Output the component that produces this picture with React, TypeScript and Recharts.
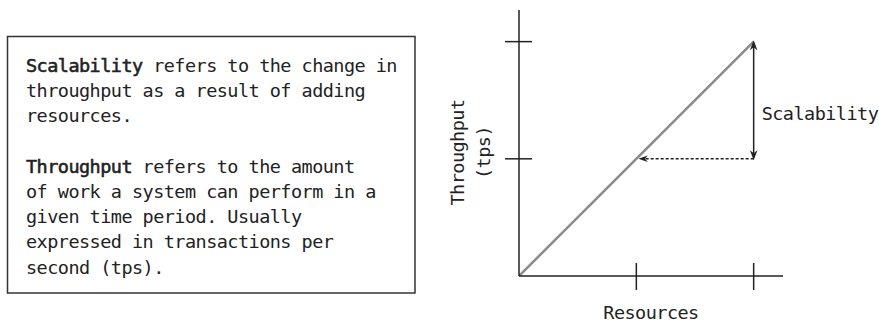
import React from "react";
import { Label, Line, LineChart, ReferenceLine, XAxis, YAxis } from "recharts";

const resources = [0, 2];
const throughput = [0, 2];
const resourceTicks = [1, 2];
const throughputTicks = [1, 2];
// scalability arrow: from throughput at 2 down to throughput at 1, at resources = 2
const scalabilityFrom = { resources: 2, throughput: 2 };
const scalabilityTo = { resources: 2, throughput: 1 };
// dotted arrow back to the line at throughput 1
const dottedTo = { resources: 1, throughput: 1 };

const noteLines = [
  ["Scalability", " refers to the change in"],
  ["", "throughput as a result of adding"],
  ["", "resources."],
  ["", ""],
  ["Throughput", " refers to the amount"],
  ["", "of work a system can perform in a"],
  ["", "given time period. Usually"],
  ["", "expressed in transactions per"],
  ["", "second (tps)."]
];

const lineData = resources.map((r, i) => ({ resources: r, throughput: throughput[i] }));

const font = "'DejaVu Sans Mono', monospace";
const ink = "#222";
const textStyle = { fontFamily: font, fontSize: 18.5, letterSpacing: -0.54, fill: ink };

// stealth style arrow head with the tip at (x, y) pointing along (ux, uy)
function head(x: number, y: number, ux: number, uy: number, len: number, w: number) {
  const px = -uy;
  const py = ux;
  const bx = x - ux * len;
  const by = y - uy * len;
  const nx = x - ux * len * 0.7;
  const ny = y - uy * len * 0.7;
  return `${x},${y} ${bx + (px * w) / 2},${by + (py * w) / 2} ${nx},${ny} ${bx - (px * w) / 2},${by - (py * w) / 2}`;
}

function DoubleArrow(props: any) {
  const { x1, y1, x2, y2 } = props;
  const dx = x2 - x1;
  const dy = y2 - y1;
  const d = Math.hypot(dx, dy) || 1;
  const ux = dx / d;
  const uy = dy / d;
  const ax = x1 - ux * 1.5;
  const ay = y1 - uy * 1.5;
  const bx = x2 + ux * 1.5;
  const by = y2 + uy * 1.5;
  const midY = (y1 + y2) / 2;
  return (
    <g>
      <line x1={ax + ux * 6} y1={ay + uy * 6} x2={bx - ux * 6} y2={by - uy * 6} stroke={ink} strokeWidth={1.5} />
      <polygon points={head(ax, ay, -ux, -uy, 10, 7.5)} fill={ink} />
      <polygon points={head(bx, by, ux, uy, 10, 7.5)} fill={ink} />
      <text x={x1 + 8} y={midY + 20} style={textStyle} textAnchor="start">
        Scalability
      </text>
    </g>
  );
}

function DottedArrow(props: any) {
  const { x1, y1, x2, y2 } = props;
  const dx = x2 - x1;
  const dy = y2 - y1;
  const d = Math.hypot(dx, dy) || 1;
  const ux = dx / d;
  const uy = dy / d;
  const tx = x2 - ux * 2;
  const ty = y2 - uy * 2;
  return (
    <g>
      <line
        x1={x1}
        y1={y1}
        x2={tx - ux * 6}
        y2={ty - uy * 6}
        stroke={ink}
        strokeWidth={1.5}
        strokeDasharray="3 2"
      />
      <polygon points={head(tx, ty, ux, uy, 9.5, 6.5)} fill={ink} />
    </g>
  );
}

function XTick(props: any) {
  const { x, y } = props;
  return <line x1={x} x2={x} y1={y - 13} y2={y + 14} stroke={ink} strokeWidth={1.5} />;
}

function YTick(props: any) {
  const { x, y } = props;
  return <line x1={x - 14} x2={x + 13} y1={y} y2={y} stroke={ink} strokeWidth={1.5} />;
}

function YTitle(props: any) {
  const vb = props.viewBox || { x: 0, y: 10, width: 519, height: 266 };
  const ax = vb.x + vb.width;
  const cy = vb.y + vb.height / 2 + 9.5;
  return (
    <g>
      <text transform={`translate(${ax - 55},${cy}) rotate(-90)`} textAnchor="middle" style={textStyle}>
        Throughput
      </text>
      <text transform={`translate(${ax - 29},${cy}) rotate(-90)`} textAnchor="middle" style={textStyle}>
        (tps)
      </text>
    </g>
  );
}

export default function App() {
  return (
    <div style={{ position: "absolute", left: 0, top: 0, width: 879, height: 322, background: "#fff" }}>
      <svg width={879} height={322} style={{ position: "absolute", left: 0, top: 0 }}>
        <rect x={7.5} y={36.5} width={407.5} height={256.5} fill="none" stroke="#333" strokeWidth={1.5} />
        {noteLines.map(([bold, rest], i) => (
          <text key={i} x={26} y={72 + i * 25.2} style={textStyle}>
            {bold && (
              <tspan stroke={ink} strokeWidth={0.55}>
                {bold}
              </tspan>
            )}
            <tspan>{rest}</tspan>
          </text>
        ))}
      </svg>
      <div style={{ position: "absolute", left: 0, top: 0 }}>
        <LineChart width={879} height={322} data={lineData} margin={{ top: 10, right: 96, bottom: 0, left: 0 }}>
          <XAxis
            type="number"
            dataKey="resources"
            domain={[0, 2.25]}
            allowDataOverflow
            ticks={resourceTicks}
            interval={0}
            height={46}
            tickSize={0}
            tickMargin={0}
            tickLine={false}
            tick={<XTick />}
            axisLine={{ stroke: ink, strokeWidth: 1.5 }}
          >
            <Label value="Resources" position="insideBottom" offset={3} style={textStyle} />
          </XAxis>
          <YAxis
            type="number"
            domain={[0, 2.27]}
            allowDataOverflow
            ticks={throughputTicks}
            interval={0}
            width={519}
            tickSize={0}
            tickMargin={0}
            tickLine={false}
            tick={<YTick />}
            axisLine={{ stroke: ink, strokeWidth: 1.5 }}
          >
            <Label content={<YTitle />} />
          </YAxis>
          <Line
            type="linear"
            dataKey="throughput"
            stroke="#8a8a8a"
            strokeWidth={2.5}
            dot={false}
            activeDot={false}
            isAnimationActive={false}
          />
          <ReferenceLine
            segment={[
              { x: scalabilityFrom.resources, y: scalabilityFrom.throughput },
              { x: scalabilityTo.resources, y: scalabilityTo.throughput }
            ]}
            shape={(p: any) => <DoubleArrow {...p} />}
            ifOverflow="visible"
          />
          <ReferenceLine
            segment={[
              { x: scalabilityTo.resources, y: scalabilityTo.throughput },
              { x: dottedTo.resources, y: dottedTo.throughput }
            ]}
            shape={(p: any) => <DottedArrow {...p} />}
            ifOverflow="visible"
          />
        </LineChart>
      </div>
    </div>
  );
}
